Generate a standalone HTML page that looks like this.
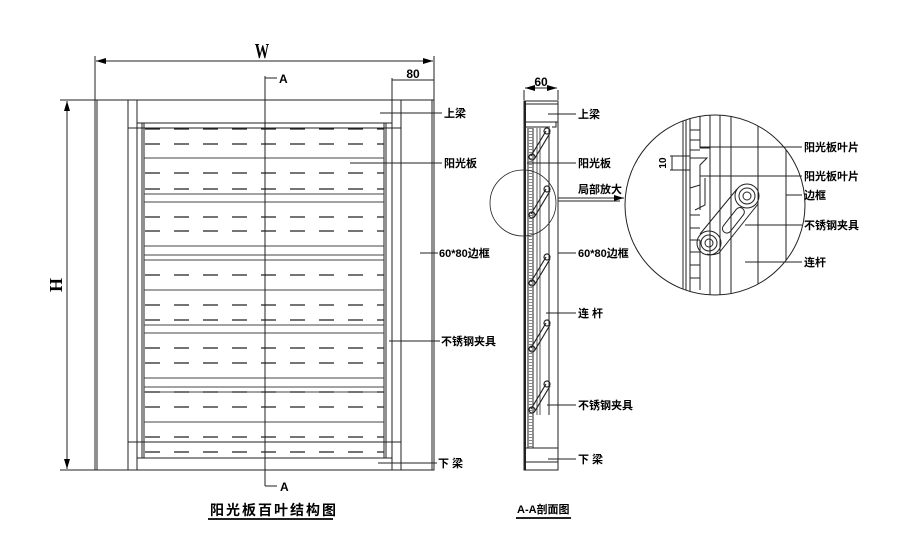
<!DOCTYPE html>
<html><head><meta charset="utf-8"><style>
html,body{margin:0;padding:0;background:#fff;}
svg{display:block;}
text{font-family:"Liberation Sans","Noto Sans CJK SC",sans-serif;fill:#000;font-weight:bold;}
</style></head><body>
<svg width="900" height="558" viewBox="0 0 900 558" xmlns="http://www.w3.org/2000/svg">
<defs>
<marker id="ar" viewBox="0 0 10 6" refX="10" refY="3" markerWidth="10" markerHeight="6" orient="auto-start-reverse"><path d="M0,0 L10,3 L0,6z" fill="#000"/></marker>
<clipPath id="cc"><circle cx="715" cy="205" r="90"/></clipPath>
</defs>
<g stroke="#222" stroke-width="1" fill="none">
<rect x="95" y="100" width="339" height="370"/>
<line x1="97" y1="100" x2="97" y2="470"/><line x1="432" y1="100" x2="432" y2="470"/>
<line x1="128" y1="100" x2="128" y2="470"/><line x1="137" y1="100" x2="137" y2="470"/>
<line x1="392" y1="100" x2="392" y2="470"/><line x1="401" y1="100" x2="401" y2="470"/>
<line x1="137" y1="123" x2="392" y2="123"/><line x1="137" y1="458" x2="392" y2="458"/>
<line x1="142" y1="123" x2="142" y2="458"/><line x1="144" y1="123" x2="144" y2="458"/>
<line x1="386" y1="123" x2="386" y2="458"/><line x1="384" y1="123" x2="384" y2="458"/>
<line x1="128" y1="128" x2="401" y2="128"/><line x1="128" y1="442" x2="401" y2="442"/>
<g stroke="#444">
<line x1="144" y1="158" x2="384" y2="158"/><line x1="144" y1="194" x2="384" y2="194"/><line x1="144" y1="202" x2="384" y2="202"/>
<line x1="144" y1="246" x2="384" y2="246"/><line x1="144" y1="255" x2="384" y2="255"/><line x1="144" y1="260" x2="384" y2="260"/>
<line x1="144" y1="290" x2="384" y2="290"/><line x1="144" y1="325" x2="384" y2="325"/><line x1="144" y1="333" x2="384" y2="333"/>
<line x1="144" y1="378" x2="384" y2="378"/><line x1="144" y1="387" x2="384" y2="387"/><line x1="144" y1="392" x2="384" y2="392"/>
<line x1="144" y1="422" x2="384" y2="422"/>
</g>
<g stroke="#222" stroke-dasharray="15 14" stroke-width="1.2">
<line x1="145" y1="129" x2="384" y2="129"/><line x1="145" y1="144" x2="384" y2="144"/>
<line x1="145" y1="173" x2="384" y2="173"/><line x1="145" y1="189" x2="384" y2="189"/>
<line x1="145" y1="217" x2="384" y2="217"/><line x1="145" y1="231" x2="384" y2="231"/>
<line x1="145" y1="275" x2="384" y2="275"/><line x1="145" y1="305" x2="384" y2="305"/>
<line x1="145" y1="320" x2="384" y2="320"/><line x1="145" y1="348" x2="384" y2="348"/>
<line x1="145" y1="363" x2="384" y2="363"/><line x1="145" y1="392" x2="384" y2="392"/>
<line x1="145" y1="407" x2="384" y2="407"/><line x1="145" y1="437" x2="384" y2="437"/>
<line x1="145" y1="452" x2="384" y2="452"/>
</g>
<line x1="265" y1="76" x2="265" y2="486"/>
<line x1="265" y1="78" x2="277" y2="78"/><line x1="265" y1="486" x2="277" y2="486"/>
<line x1="95" y1="56" x2="95" y2="100"/><line x1="434" y1="56" x2="434" y2="100"/>
<line x1="96" y1="61" x2="433" y2="61" marker-start="url(#ar)" marker-end="url(#ar)"/>
<line x1="392" y1="80" x2="434" y2="80"/><line x1="392" y1="78" x2="392" y2="100"/>
<line x1="60" y1="100" x2="95" y2="100"/><line x1="60" y1="470" x2="95" y2="470"/>
<line x1="67" y1="101" x2="67" y2="469" marker-start="url(#ar)" marker-end="url(#ar)"/>
<line x1="380" y1="113" x2="442" y2="113"/><line x1="350" y1="163" x2="442" y2="163"/>
<line x1="420" y1="253" x2="438" y2="253"/><line x1="389" y1="341" x2="440" y2="341"/>
<line x1="378" y1="463" x2="437" y2="463"/>
<line x1="208" y1="519" x2="333" y2="519" stroke-width="2"/>
<rect x="524" y="101" width="34" height="369"/>
<line x1="525" y1="101" x2="525" y2="470" stroke-width="2"/>
<line x1="524" y1="90" x2="524" y2="100"/><line x1="558" y1="90" x2="558" y2="100"/>
<line x1="525" y1="88" x2="557" y2="88" marker-start="url(#ar)" marker-end="url(#ar)"/>
<line x1="524" y1="104" x2="558" y2="104"/><line x1="524" y1="122" x2="558" y2="122"/>
<path d="M524,127 H550 M552,127 H556 V122"/>
<line x1="524" y1="448" x2="558" y2="448"/><line x1="524" y1="462" x2="558" y2="462"/>
<line x1="528" y1="128" x2="528" y2="448"/><line x1="533" y1="128" x2="533" y2="448"/>
<line x1="530.5" y1="128" x2="530.5" y2="448" stroke="#888" stroke-width="5" stroke-dasharray="1 2"/>
<line x1="537" y1="128" x2="537" y2="415" stroke="#555"/><line x1="540" y1="128" x2="540" y2="415" stroke="#555"/>
<line x1="549" y1="128" x2="549" y2="415"/>
<g stroke-width="1.2">
<path d="M531,156 L546,131 M535,158 L550,133"/><circle cx="547" cy="131" r="3"/><circle cx="532" cy="157" r="3"/>
<path d="M531,214 L546,189 M535,216 L550,191"/><circle cx="547" cy="189" r="3"/><circle cx="532" cy="215" r="3"/>
<path d="M531,282 L546,257 M535,284 L550,259"/><circle cx="547" cy="257" r="3"/><circle cx="532" cy="283" r="3"/>
<path d="M531,348 L546,323 M535,350 L550,325"/><circle cx="547" cy="323" r="3"/><circle cx="532" cy="349" r="3"/>
<path d="M531,409 L546,384 M535,411 L550,386"/><circle cx="547" cy="384" r="3"/><circle cx="532" cy="410" r="3"/>
</g>
<circle cx="523" cy="203" r="33" stroke-width="0.8"/>
<line x1="548" y1="114" x2="576" y2="114"/><line x1="527" y1="163" x2="576" y2="163"/>
<line x1="558" y1="253" x2="576" y2="253"/><line x1="546" y1="313" x2="576" y2="313"/>
<line x1="547" y1="405" x2="576" y2="405"/><line x1="548" y1="459" x2="576" y2="459"/>
<line x1="558" y1="198" x2="624" y2="198" marker-end="url(#ar)"/><line x1="558" y1="201" x2="620" y2="201"/>
<line x1="516" y1="518" x2="571" y2="518" stroke-width="2"/>
<circle cx="715" cy="205" r="90"/>
<g clip-path="url(#cc)">
<line x1="683" y1="100" x2="683" y2="300"/><line x1="686" y1="100" x2="686" y2="300"/><line x1="690" y1="100" x2="690" y2="300"/>
<line x1="710" y1="100" x2="710" y2="300"/><line x1="720" y1="100" x2="720" y2="300"/><line x1="731" y1="100" x2="731" y2="300"/>
<line x1="758" y1="100" x2="758" y2="300"/><line x1="786" y1="100" x2="786" y2="300"/>
<path d="M690,130 H700 M690,140 H700 M690,150 H700 M690,215 H700 M690,228 H700 M690,240 H700 M690,252 H700 M690,265 H700 M690,278 H700" />
<path d="M700,110 V148 H710 M700,175 V210 M700,240 V290"/>
<path d="M690,158 H707 L700,165 V185 L690,188"/>
<path d="M705,178 V205 L695,210"/>
</g>
<path d="M670,156 H690 M670,170 H690 M672,156 V170"/>
<circle cx="747" cy="196" r="12"/><circle cx="747" cy="196" r="8"/><circle cx="747" cy="196" r="4"/>
<circle cx="709" cy="243" r="12"/><circle cx="709" cy="243" r="8"/><circle cx="709" cy="243" r="4"/>
<path d="M737,189 L700,234 M758,204 L719,253 Q712,256 707,254" />
<rect x="718" y="216" width="30" height="9" rx="4.5" transform="rotate(-52 733 220)"/>
<line x1="700" y1="147" x2="802" y2="147"/><line x1="700" y1="176" x2="802" y2="176"/>
<line x1="786" y1="195" x2="802" y2="195"/><line x1="745" y1="225" x2="802" y2="225"/>
<line x1="745" y1="262" x2="802" y2="262"/>
</g>
<text x="262" y="58" font-size="18" font-weight="normal" text-anchor="middle" transform="translate(262 58) scale(0.8 1.2) translate(-262 -58)" style="font-family:'Liberation Serif',serif">W</text>
<text x="413" y="78" font-size="12" font-weight="normal" text-anchor="middle">80</text>
<text x="541" y="86" font-size="12" font-weight="normal" text-anchor="middle">60</text>
<text x="62" y="285" font-size="18" font-weight="normal" transform="rotate(-90 62 285)" text-anchor="middle" style="font-family:'Liberation Serif',serif">H</text>
<text x="279" y="83" font-size="12">A</text>
<text x="280" y="491" font-size="12">A</text>
<g font-size="11">
<text x="444" y="117">上梁</text>
<text x="444" y="167">阳光板</text>
<text x="439" y="257">60*80边框</text>
<text x="441" y="345">不锈钢夹具</text>
<text x="438" y="467">下 梁</text>
<text x="578" y="118">上梁</text>
<text x="578" y="167">阳光板</text>
<text x="578" y="193">局部放大</text>
<text x="578" y="257">60*80边框</text>
<text x="578" y="317">连 杆</text>
<text x="578" y="409">不锈钢夹具</text>
<text x="578" y="463">下 梁</text>
<text x="804" y="151">阳光板叶片</text>
<text x="804" y="180">阳光板叶片</text>
<text x="804" y="199">边框</text>
<text x="804" y="229">不锈钢夹具</text>
<text x="804" y="266">连杆</text>
<text x="517" y="513">A-A剖面图</text>
</g>
<text x="666" y="163" font-size="10" font-weight="normal" transform="rotate(-90 666 163)" text-anchor="middle">10</text>
<text x="210" y="515" font-size="14" letter-spacing="2">阳光板百叶结构图</text>
</svg>
</body></html>
